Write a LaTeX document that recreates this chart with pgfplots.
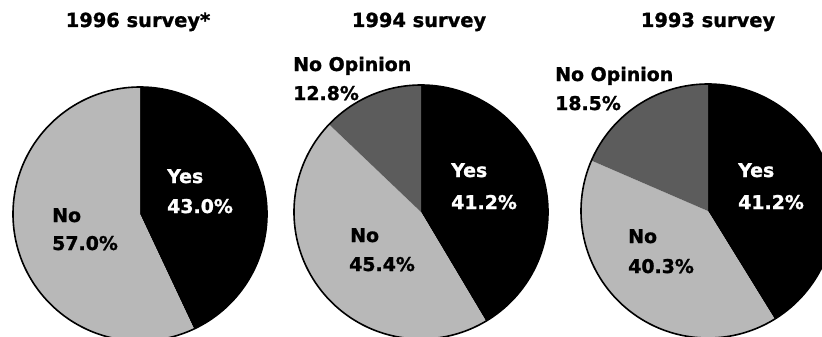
\documentclass[border=0pt]{standalone}
\usepackage{fontspec}
\setmainfont{DejaVu Sans}[BoldFeatures={FakeBold=1.2}]
\usepackage{pgfplots}
\pgfplotsset{compat=1.18}
\definecolor{nofill}{gray}{0.72}
\definecolor{nopfill}{gray}{0.36}
% #1 cx, #2 cy, #3 cumulative percent before slice, #4 slice percent, #5 total, #6 fill
\newcommand{\pieslice}[6]{%
  \fill[#6] (axis cs:#1,#2) -- ++({90-(360/(#5))*(#3)}:127bp)
    arc[start angle={90-(360/(#5))*(#3)}, end angle={90-(360/(#5))*(#3+#4)}, radius=127bp] -- cycle;}
\newcommand{\pieedge}[2]{%
  \draw[line width=1.6bp] (axis cs:#1,#2) circle[radius=127bp];}
\tikzset{lbl/.style={font=\fontsize{19}{22}\selectfont\bfseries, inner sep=0pt},
         ttl/.style={font=\fontsize{19.5}{22}\selectfont\bfseries, inner sep=0pt}}
\begin{document}
\begin{tikzpicture}
\begin{axis}[
  scale only axis, width=822bp, height=337bp,
  xmin=0, xmax=822, ymin=0, ymax=337, y dir=reverse,
  hide axis, clip=true,
]
\path (axis cs:0,0) rectangle (axis cs:822,337);
% ---- 1996 survey: Yes 43.0, No 57.0
\pieslice{140}{214}{0}{43.0}{100}{black}
\pieslice{140}{214}{43.0}{57.0}{100}{nofill}
\pieedge{140}{214}
% ---- 1994 survey: Yes 41.2, No 45.4, No Opinion 12.8 (total 99.4)
\pieslice{421}{212}{0}{41.2}{99.4}{black}
\pieslice{421}{212}{41.2}{45.4}{99.4}{nofill}
\pieslice{421}{212}{86.6}{12.8}{99.4}{nopfill}
\pieedge{421}{212}
% ---- 1993 survey: Yes 41.2, No 40.3, No Opinion 18.5
\pieslice{708}{211}{0}{41.2}{100}{black}
\pieslice{708}{211}{41.2}{40.3}{100}{nofill}
\pieslice{708}{211}{81.5}{18.5}{100}{nopfill}
\pieedge{708}{211}
% titles
\node[ttl, anchor=base] at (axis cs:138,27) {1996 survey*};
\node[ttl, anchor=base] at (axis cs:419,27) {1994 survey};
\node[ttl, anchor=base] at (axis cs:708,27) {1993 survey};
% 1996 labels
\node[lbl, anchor=base west, text=white] at (axis cs:167,183) {Yes};
\node[lbl, anchor=base west, text=white] at (axis cs:167,213) {43.0\%};
\node[lbl, anchor=base west] at (axis cs:52,222) {No};
\node[lbl, anchor=base west] at (axis cs:52,250) {57.0\%};
% 1994 labels
\node[lbl, anchor=base west] at (axis cs:293,71) {No Opinion};
\node[lbl, anchor=base west] at (axis cs:293,100) {12.8\%};
\node[lbl, anchor=base west, text=white] at (axis cs:451,177) {Yes};
\node[lbl, anchor=base west, text=white] at (axis cs:451,209) {41.2\%};
\node[lbl, anchor=base west] at (axis cs:350,242) {No};
\node[lbl, anchor=base west] at (axis cs:349,271) {45.4\%};
% 1993 labels
\node[lbl, anchor=base west] at (axis cs:555,81) {No Opinion};
\node[lbl, anchor=base west] at (axis cs:555,110) {18.5\%};
\node[lbl, anchor=base west, text=white] at (axis cs:738,177) {Yes};
\node[lbl, anchor=base west, text=white] at (axis cs:738,209) {41.2\%};
\node[lbl, anchor=base west] at (axis cs:628,243) {No};
\node[lbl, anchor=base west] at (axis cs:628,273) {40.3\%};
\end{axis}
\end{tikzpicture}
\end{document}
